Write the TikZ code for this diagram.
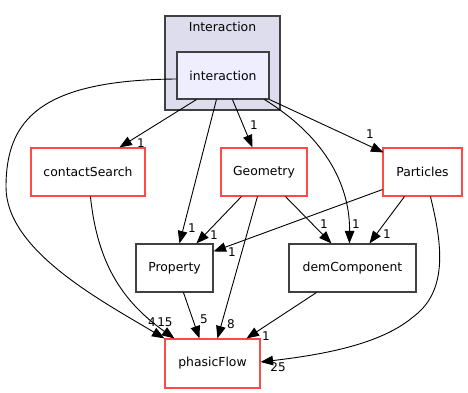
\documentclass[tikz,border=0pt]{standalone}
\usepackage{fontspec}
\setmainfont{DejaVu Sans}
\usetikzlibrary{arrows.meta,calc}
\definecolor{clusterfill}{HTML}{DDDDEE}
\definecolor{dirfill}{HTML}{EEEEFF}
\definecolor{dirred}{HTML}{FF4848}
\definecolor{dirgray}{HTML}{404040}
\begin{document}
\begin{tikzpicture}[x=1pt,y=-1pt,
  dirbox/.style={draw=#1, line width=1.1pt, fill=white, minimum height=48pt,
    inner sep=0pt, font=\fontsize{12.4}{14}\selectfont},
  dep/.style={line width=0.9pt, -{Triangle[length=12.5pt,width=9.5pt]}},
  cnt/.style={font=\fontsize{12}{13}\selectfont, inner sep=0pt}]
\useasboundingbox (0,0) rectangle (468,393);

% package cluster
\node[draw=dirgray, line width=1.1pt, fill=clusterfill, minimum width=115pt,
  minimum height=94pt, inner sep=0pt] (Interaction) at (222.5,63) {};
\node[font=\fontsize{12.4}{14}\selectfont] (Interactiontitle) at (222.5,27) {Interaction};
\node[dirbox=dirgray, fill=dirfill, minimum width=92pt, minimum height=47pt]
  (interaction) at (223,75.5) {interaction};

% directories
\node[dirbox=dirred, minimum width=114pt] (contactSearch) at (88,172) {contactSearch};
\node[dirbox=dirred, minimum width=86pt] (Geometry) at (264,172) {Geometry};
\node[dirbox=dirred, minimum width=79pt] (Particles) at (422.5,172) {Particles};
\node[dirbox=dirgray, minimum width=77pt] (Property) at (174.5,268) {Property};
\node[dirbox=dirgray, minimum width=127pt] (demComponent) at (352.5,268) {demComponent};
\node[dirbox=dirred, minimum width=95pt, minimum height=49pt] (phasicFlow) at (212.5,363.5) {phasicFlow};

% dependencies of interaction
\draw[dep] ($(interaction.south west)+(20,0)$) -- ($(contactSearch.north west)+(89,0)$);
\draw[dep] ($(interaction.south west)+(40,0)$) -- ($(Property.north west)+(44,0)$);
\draw[dep] ($(interaction.south west)+(56,0)$) -- ($(Geometry.north west)+(32,0)$);
\draw[dep] ($(interaction.south west)+(88,0)$) .. controls (330,140) and (350,190) .. ($(demComponent.north west)+(61,0)$);
\draw[dep] (interaction.south east) -- ($(Particles.north west)+(1,5)$);
\draw[dep] ($(interaction.west)+(0,3.5)$) .. controls (40,80) and (6,120) .. (6,187)
  .. controls (6,250) and (100,300) .. (phasicFlow.north west);

% contactSearch
\draw[dep] ($(contactSearch.south west)+(60,0)$) .. controls (97,260) and (120,300) .. ($(phasicFlow.north west)+(10,0)$);

% Geometry
\draw[dep] ($(Geometry.south west)+(21,0)$) -- ($(Property.north west)+(61,0)$);
\draw[dep] ($(Geometry.south west)+(37,0)$) -- ($(phasicFlow.north west)+(53,0)$);
\draw[dep] ($(Geometry.south west)+(65,0)$) -- ($(demComponent.north west)+(43,0)$);

% Particles
\draw[dep] ($(Particles.south west)+(0,-7)$) -- ($(Property.north east)+(0,8)$);
\draw[dep] ($(Particles.south west)+(22,0)$) -- ($(demComponent.north west)+(81,0)$);
\draw[dep] ($(Particles.south west)+(48,0)$) .. controls (441,240) and (450,290) .. (413,317)
  .. controls (380,345) and (320,355) .. ($(phasicFlow.east)+(0,-1.5)$);

% Property and demComponent
\draw[dep] ($(Property.south west)+(48,0)$) -- ($(phasicFlow.north west)+(35,0)$);
\draw[dep] ($(demComponent.south west)+(28,0)$) -- ($(phasicFlow.north west)+(82,0)$);

% dependency counts
\node[cnt] (ncs) at (141,143) {1};
\node[cnt] (nip) at (192,228) {1};
\node[cnt] (nig) at (254,125) {1};
\node[cnt] (nid) at (356,224) {1};
\node[cnt] (nipa) at (370,134) {1};
\node[cnt] (ncf) at (152,322) {4};
\node[cnt] (nif) at (165,322) {15};
\node[cnt] (ngp) at (214,235) {1};
\node[cnt] (ngf) at (231,324) {8};
\node[cnt] (ngd) at (324,224) {1};
\node[cnt] (npp) at (232,252) {1};
\node[cnt] (npd) at (387,234) {1};
\node[cnt] (npf) at (278,367) {25};
\node[cnt] (nprf) at (204,319) {5};
\node[cnt] (ndf) at (266,336) {1};
\end{tikzpicture}
\end{document}
